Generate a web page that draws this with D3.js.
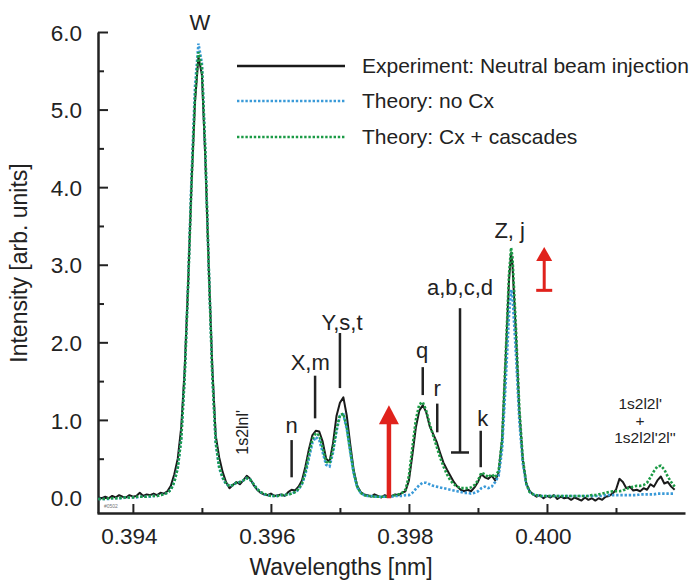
<!DOCTYPE html>
<html><head><meta charset="utf-8">
<script src="https://cdn.jsdelivr.net/npm/d3@7"></script>
<style>
html,body{margin:0;padding:0;background:#fff;}
svg{display:block;font-family:"Liberation Sans",Arial,Helvetica,sans-serif;}
</style></head>
<body>
<svg id="chart" width="695" height="580"></svg>
<script>
// ---- data ----
const wavelengths = [
0.39350,0.39355,0.39360,0.39365,0.39370,0.39375,0.39380,0.39385,0.39390,0.39395,
0.39400,0.39405,0.39410,0.39415,0.39420,0.39425,0.39430,0.39435,0.39440,0.39445,
0.39450,0.39455,0.39460,0.39465,0.39470,0.39475,0.39480,0.39485,0.39490,0.39495,
0.39500,0.39505,0.39510,0.39515,0.39520,0.39525,0.39530,0.39535,0.39540,0.39545,
0.39550,0.39555,0.39560,0.39565,0.39570,0.39575,0.39580,0.39585,0.39590,0.39595,
0.39600,0.39605,0.39610,0.39615,0.39620,0.39625,0.39630,0.39635,0.39640,0.39645,
0.39650,0.39655,0.39660,0.39665,0.39670,0.39675,0.39680,0.39685,0.39690,0.39695,
0.39700,0.39705,0.39710,0.39715,0.39720,0.39725,0.39730,0.39735,0.39740,0.39745,
0.39750,0.39755,0.39760,0.39765,0.39770,0.39775,0.39780,0.39785,0.39790,0.39795,
0.39800,0.39805,0.39810,0.39815,0.39820,0.39825,0.39830,0.39835,0.39840,0.39845,
0.39850,0.39855,0.39860,0.39865,0.39870,0.39875,0.39880,0.39885,0.39890,0.39895,
0.39900,0.39905,0.39910,0.39915,0.39920,0.39925,0.39930,0.39935,0.39940,0.39945,
0.39948,0.39950,0.39955,0.39960,0.39965,0.39970,0.39975,
0.39980,0.39985,0.39990,0.39995,0.40000,0.40005,0.40010,0.40015,0.40020,0.40025,
0.40030,0.40035,0.40040,0.40045,0.40050,0.40055,0.40060,0.40065,0.40070,0.40075,
0.40080,0.40085,0.40090,0.40095,0.40100,0.40105,0.40110,0.40115,0.40120,0.40125,
0.40130,0.40135,0.40140,0.40145,0.40150,0.40155,0.40160,0.40165,0.40170,0.40175,
0.40180,0.40185
];
const experiment = [
0.00,-0.01,0.01,-0.01,0.02,0.00,0.03,0.01,0.00,0.03,
0.01,0.02,0.06,0.02,0.04,0.03,0.05,0.03,0.06,0.05,
0.08,0.15,0.30,0.50,0.90,1.65,2.75,4.05,5.10,5.68,
5.45,4.35,2.95,1.70,0.80,0.52,0.33,0.20,0.12,0.16,
0.20,0.17,0.22,0.28,0.24,0.16,0.10,0.06,0.04,0.03,
0.05,0.02,0.03,0.04,0.02,0.07,0.10,0.09,0.14,0.22,
0.40,0.62,0.80,0.86,0.85,0.72,0.50,0.46,0.70,1.05,
1.22,1.29,1.05,0.68,0.35,0.15,0.07,0.04,0.03,0.01,
0.04,0.02,0.00,0.03,0.01,0.02,0.04,0.03,0.06,0.08,
0.22,0.55,0.90,1.12,1.19,1.10,0.92,0.82,0.72,0.58,
0.45,0.36,0.28,0.20,0.14,0.10,0.08,0.10,0.08,0.13,
0.20,0.30,0.26,0.24,0.28,0.22,0.32,0.75,1.75,2.80,
3.15,3.00,2.10,1.10,0.48,0.18,0.08,
0.04,0.01,0.03,-0.01,0.02,0.00,0.03,-0.02,0.01,-0.01,
0.00,-0.03,0.00,-0.02,-0.04,0.00,-0.03,-0.01,-0.04,-0.01,
-0.03,0.01,0.02,0.05,0.10,0.24,0.20,0.12,0.14,0.09,
0.10,0.08,0.12,0.10,0.17,0.14,0.22,0.27,0.18,0.20,
0.14,0.10
];
const theoryNoCx = [
-0.02,-0.02,-0.02,-0.02,-0.01,-0.01,-0.01,-0.01,0.00,0.00,
0.00,0.00,0.01,0.01,0.01,0.01,0.02,0.02,0.03,0.04,
0.06,0.10,0.20,0.38,0.75,1.55,2.75,4.15,5.30,5.85,
5.60,4.45,2.95,1.60,0.70,0.38,0.25,0.17,0.15,0.16,
0.19,0.20,0.22,0.25,0.23,0.17,0.11,0.07,0.04,0.03,
0.02,0.02,0.02,0.03,0.03,0.04,0.05,0.07,0.10,0.17,
0.30,0.50,0.70,0.78,0.74,0.58,0.42,0.40,0.58,0.85,
1.05,1.07,0.88,0.58,0.30,0.13,0.06,0.03,0.02,0.02,
0.01,0.01,0.01,0.01,0.01,0.01,0.02,0.02,0.02,0.03,
0.03,0.06,0.11,0.16,0.19,0.19,0.17,0.15,0.14,0.13,
0.12,0.11,0.10,0.09,0.08,0.07,0.06,0.06,0.05,0.06,
0.08,0.12,0.14,0.12,0.14,0.20,0.28,0.62,1.45,2.35,
2.68,2.60,1.85,0.98,0.44,0.17,0.07,
0.04,0.03,0.02,0.02,0.02,0.02,0.02,0.02,0.02,0.02,
0.02,0.02,0.02,0.02,0.02,0.02,0.02,0.02,0.02,0.02,
0.02,0.03,0.03,0.03,0.03,0.03,0.03,0.03,0.03,0.03,
0.03,0.04,0.04,0.04,0.04,0.04,0.05,0.05,0.05,0.05,
0.05,0.05
];
const theoryCx = [
-0.02,-0.02,-0.02,-0.01,-0.01,-0.01,-0.01,0.00,0.00,0.00,
0.00,0.01,0.01,0.01,0.01,0.02,0.02,0.02,0.03,0.04,
0.06,0.10,0.20,0.38,0.75,1.55,2.72,4.05,5.15,5.74,
5.55,4.45,2.95,1.60,0.72,0.40,0.26,0.18,0.15,0.16,
0.19,0.20,0.22,0.25,0.23,0.17,0.11,0.07,0.05,0.03,
0.02,0.02,0.02,0.03,0.03,0.04,0.05,0.07,0.11,0.18,
0.33,0.55,0.75,0.83,0.80,0.64,0.46,0.44,0.62,0.88,
1.06,1.08,0.90,0.60,0.32,0.14,0.06,0.03,0.02,0.02,
0.01,0.01,0.01,0.01,0.01,0.02,0.03,0.04,0.06,0.10,
0.28,0.65,1.00,1.20,1.23,1.12,0.95,0.80,0.66,0.52,
0.40,0.30,0.22,0.17,0.14,0.12,0.12,0.12,0.13,0.16,
0.22,0.32,0.30,0.26,0.30,0.26,0.35,0.75,1.80,2.88,
3.22,3.10,2.20,1.15,0.50,0.18,0.07,
0.04,0.03,0.02,0.02,0.02,0.02,0.02,0.02,0.02,0.02,
0.02,0.02,0.02,0.02,0.02,0.02,0.02,0.03,0.03,0.04,
0.05,0.06,0.07,0.08,0.08,0.08,0.09,0.11,0.13,0.14,
0.15,0.15,0.16,0.19,0.26,0.34,0.40,0.41,0.36,0.27,
0.20,0.14
];

const xMajorTicks = [0.394, 0.396, 0.398, 0.400];
const xMajorLabels = ["0.394", "0.396", "0.398", "0.400"];
const xMinorTicks = [0.395, 0.397, 0.399, 0.401];
const yMajorTicks = [0, 1, 2, 3, 4, 5, 6];
const yMajorLabels = ["0.0", "1.0", "2.0", "3.0", "4.0", "5.0", "6.0"];
const yMinorTicks = [0.5, 1.5, 2.5, 3.5, 4.5, 5.5];

const seriesNames = ["Experiment: Neutral beam injection", "Theory: no Cx", "Theory: Cx + cascades"];
const seriesColors = ["#1a1a1a", "#3a9ad8", "#1b9a45"];

// line labels: text, wavelength, intensity (label centre)
const lineLabels = [
  {t:"W", x:0.39497, y:6.13},
  {t:"n", x:0.39630, y:0.93},
  {t:"X,m", x:0.39657, y:1.74},
  {t:"Y,s,t", x:0.39703, y:2.26},
  {t:"q", x:0.39819, y:1.90},
  {t:"r", x:0.39841, y:1.41},
  {t:"a,b,c,d", x:0.39874, y:2.71},
  {t:"k", x:0.39907, y:1.02},
  {t:"Z, j", x:0.39946, y:3.45}
];
// marker bars: wavelength, top, bottom
const markerBars = [
  {x:0.39630, y0:0.74, y1:0.26},
  {x:0.39664, y0:1.57, y1:1.02},
  {x:0.39700, y0:2.12, y1:1.41},
  {x:0.39820, y0:1.68, y1:1.32},
  {x:0.39841, y0:1.21, y1:0.84},
  {x:0.39874, y0:2.44, y1:0.58, tee:true},
  {x:0.39904, y0:0.86, y1:0.39}
];
const bigArrow = {x:0.39771, from:-0.01, to:1.19};
const smallArrow = {x:0.39996, from:2.67, to:3.23};
const satLabel = {t:"1s2lnl'", x:0.39558, y:0.84};
const satLabel2 = [
  {t:"1s2l2l'", x:0.40135, y:1.21},
  {t:"+", x:0.40135, y:0.99},
  {t:"1s2l2l'2l''", x:0.40142, y:0.77}
];

// ---- drawing ----
const svg = d3.select("#chart");
const x = d3.scaleLinear().domain([0.39348, 0.40200]).range([97, 685]);
const y = d3.scaleLinear().domain([-0.2, 6.0]).range([513, 32]);
const ink = "#222";

// axes
const xAxis = svg.append("g").attr("transform", "translate(0,513)")
  .call(d3.axisBottom(x).tickValues(xMajorTicks).tickSizeInner(-9).tickSizeOuter(0)
        .tickPadding(0).tickFormat((d, i) => xMajorLabels[i]));
xAxis.selectAll("text").attr("y", 31).attr("dy", 0).attr("dx", -4)
  .style("font-size", "22.5px").attr("fill", ink).style("font-family", "Liberation Sans, Arial, sans-serif");
svg.append("g").attr("transform", "translate(0,513)")
  .call(d3.axisBottom(x).tickValues(xMinorTicks).tickSizeInner(-5).tickSizeOuter(0).tickFormat(""))
  .select(".domain").remove();

const yAxis = svg.append("g").attr("transform", "translate(98,0)")
  .call(d3.axisLeft(y).tickValues(yMajorTicks).tickSizeInner(-10).tickSizeOuter(0)
        .tickPadding(16).tickFormat((d, i) => yMajorLabels[i]));
yAxis.selectAll("text").attr("x", -16).attr("dy", "0.36em")
  .style("font-size", "22.5px").attr("fill", ink).style("font-family", "Liberation Sans, Arial, sans-serif");
svg.append("g").attr("transform", "translate(98,0)")
  .call(d3.axisLeft(y).tickValues(yMinorTicks).tickSizeInner(-6).tickSizeOuter(0).tickFormat(""))
  .select(".domain").remove();

svg.selectAll(".domain").attr("stroke", ink).attr("stroke-width", 2.5);
svg.selectAll(".tick line").attr("stroke", ink).attr("stroke-width", 2);

// axis titles
svg.append("text").attr("x", 341).attr("y", 575).attr("text-anchor", "middle")
  .style("font-size", "23px").attr("fill", ink).text("Wavelengths [nm]");
svg.append("text").attr("transform", "translate(27,263) rotate(-90)").attr("text-anchor", "middle")
  .style("font-size", "23px").attr("fill", ink).text("Intensity [arb. units]");

// tiny plate id
svg.append("text").attr("x", 104).attr("y", 508).style("font-size", "5px").attr("fill", "#777").text("#0502");

// curves
const pts = vals => wavelengths.map((w, i) => [w, vals[i]]);
const line = d3.line().x(d => x(d[0])).y(d => y(d[1]));
svg.append("path").attr("d", line(pts(experiment))).attr("fill", "none")
  .attr("stroke", seriesColors[0]).attr("stroke-width", 2).attr("stroke-linejoin", "round");
svg.append("path").attr("d", line(pts(theoryNoCx))).attr("fill", "none")
  .attr("stroke", seriesColors[1]).attr("stroke-width", 2.6).attr("stroke-dasharray", "2.4,1.8");
svg.append("path").attr("d", line(pts(theoryCx))).attr("fill", "none")
  .attr("stroke", seriesColors[2]).attr("stroke-width", 2.6).attr("stroke-dasharray", "2.4,1.8");

// legend
const legendY = [66, 101, 137];
seriesNames.forEach((name, i) => {
  const l = svg.append("line").attr("x1", 237).attr("x2", 345).attr("y1", legendY[i]).attr("y2", legendY[i])
    .attr("stroke", seriesColors[i]).attr("stroke-width", i === 0 ? 2.5 : 2.6);
  if (i > 0) l.attr("stroke-dasharray", "2.4,1.8");
  svg.append("text").attr("x", 362).attr("y", legendY[i]).attr("dy", "0.35em")
    .style("font-size", "21px").attr("fill", ink).text(name);
});

// line labels & markers
svg.selectAll(".lbl").data(lineLabels).enter().append("text")
  .attr("x", d => x(d.x)).attr("y", d => y(d.y)).attr("dy", "0.36em").attr("text-anchor", "middle")
  .style("font-size", "22px").attr("fill", ink).text(d => d.t);
markerBars.forEach(m => {
  svg.append("line").attr("x1", x(m.x)).attr("x2", x(m.x)).attr("y1", y(m.y0)).attr("y2", y(m.y1))
    .attr("stroke", ink).attr("stroke-width", 2.5);
  if (m.tee) svg.append("line").attr("x1", x(m.x) - 9).attr("x2", x(m.x) + 9)
    .attr("y1", y(m.y1)).attr("y2", y(m.y1)).attr("stroke", ink).attr("stroke-width", 2.5);
});

// satellite labels
svg.append("text").attr("transform", `translate(${x(satLabel.x)},${y(satLabel.y)}) rotate(-90)`)
  .attr("text-anchor", "middle").attr("dy", "0.35em").style("font-size", "16px").attr("fill", ink).text(satLabel.t);
satLabel2.forEach(s => svg.append("text").attr("x", x(s.x)).attr("y", y(s.y)).attr("dy", "0.35em")
  .attr("text-anchor", "middle").style("font-size", "15.5px").attr("fill", ink).text(s.t));

// red arrows
const red = "#e0221c";
(function(){
  const ax = x(bigArrow.x), yb = y(bigArrow.from), yt = y(bigArrow.to);
  svg.append("line").attr("x1", ax).attr("x2", ax).attr("y1", yb).attr("y2", yt + 16)
    .attr("stroke", red).attr("stroke-width", 4.5);
  svg.append("path").attr("d", `M${ax},${yt} L${ax - 10},${yt + 19} L${ax + 10},${yt + 19} Z`).attr("fill", red);
})();
(function(){
  const ax = x(smallArrow.x), yb = y(smallArrow.from), yt = y(smallArrow.to);
  svg.append("line").attr("x1", ax).attr("x2", ax).attr("y1", yb).attr("y2", yt + 11)
    .attr("stroke", red).attr("stroke-width", 3);
  svg.append("line").attr("x1", ax - 8).attr("x2", ax + 8).attr("y1", yb).attr("y2", yb)
    .attr("stroke", red).attr("stroke-width", 3);
  svg.append("path").attr("d", `M${ax},${yt} L${ax - 8},${yt + 14} L${ax + 8},${yt + 14} Z`).attr("fill", red);
})();
</script>
</body></html>
